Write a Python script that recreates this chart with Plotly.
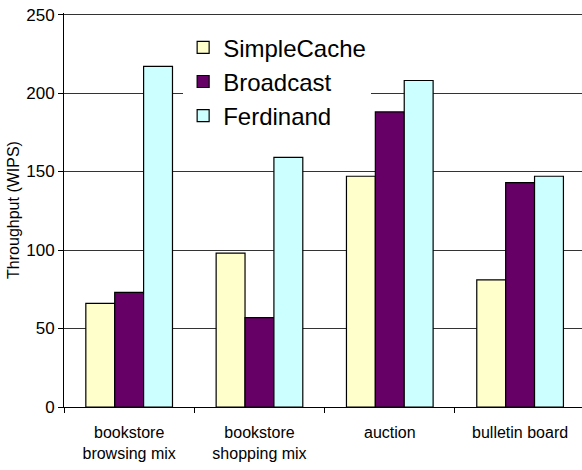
import plotly.graph_objects as go

categories = ["bookstore<br>browsing mix", "bookstore<br>shopping mix", "auction", "bulletin board"]
simplecache = [66, 98, 147, 81]
broadcast = [73, 57, 188, 143]
ferdinand = [217, 159, 208, 147]
yticks = [0, 50, 100, 150, 200, 250]

series = [
    ("SimpleCache", simplecache, "#FFFFCC"),
    ("Broadcast", broadcast, "#660066"),
    ("Ferdinand", ferdinand, "#CCFFFF"),
]

FONT = "Liberation Sans, Arial, sans-serif"

fig = go.Figure()
for i, (name, vals, color) in enumerate(series):
    fig.add_trace(go.Bar(
        x=categories, y=vals, name=name, legendgroup=f"g{i}",
        marker=dict(color=color, line=dict(color="black", width=1.2)),
    ))

fig.update_layout(
    width=582, height=470,
    margin=dict(l=64, r=0, t=13, b=63, autoexpand=False),
    paper_bgcolor="white", plot_bgcolor="white",
    barmode="group", bargap=0.335, bargroupgap=0,
    font=dict(family=FONT, color="black"),
    showlegend=True,
    hovermode=False,
    legend=dict(
        x=0.230, y=0.969, xanchor="left", yanchor="top",
        bgcolor="white", borderwidth=0,
        font=dict(family=FONT, size=24, color="black"),
        traceorder="grouped", tracegroupgap=0,
        itemclick=False,
    ),
    xaxis=dict(
        type="category", range=[-0.5, 3.475], automargin=False,
        showline=True, linecolor="black", linewidth=1,
        ticks="outside", tickson="boundaries", ticklen=5, tickcolor="black",
        tickfont=dict(size=16, family=FONT), ticklabelstandoff=11,
        showgrid=False,
    ),
    yaxis=dict(
        range=[0, 251], tickvals=yticks, automargin=False,
        ticklabeloverflow="allow",
        showline=True, linecolor="black", linewidth=1,
        ticks="outside", ticklen=5, tickcolor="black",
        tickfont=dict(size=17, family=FONT),
        showgrid=True, gridcolor="#333333", gridwidth=1,
        title=dict(text="Throughput (WIPS)", font=dict(size=16, family=FONT), standoff=2),
        zeroline=False,
    ),
)

# remove the browser's default 8px page margin so the figure fills the window
fig.write_html(
    "out.html",
    config={"displayModeBar": False, "staticPlot": False},
    post_script="document.body.style.margin='0';",
)
